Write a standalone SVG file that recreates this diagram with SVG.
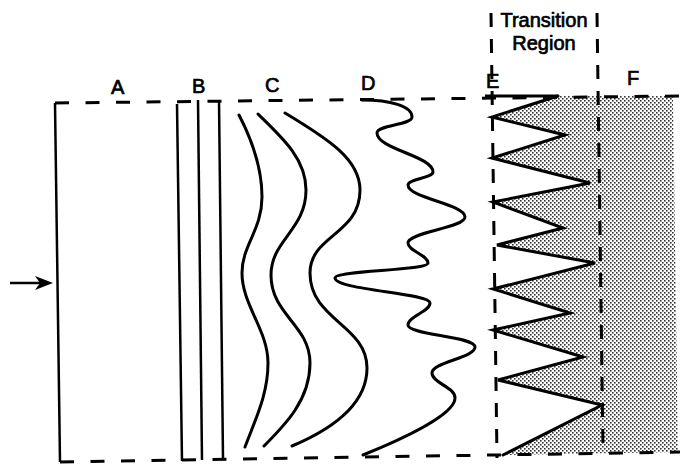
<svg xmlns="http://www.w3.org/2000/svg" width="681" height="465" viewBox="0 0 681 465">
<style>
.lbl{font-family:"Liberation Sans",Arial,sans-serif;font-size:20px;fill:#000;stroke:#000;stroke-width:0.7}
.dash{fill:none;stroke:#000;stroke-width:3;stroke-dasharray:14 16.5}
.vdash{fill:none;stroke:#000;stroke-width:3;stroke-dasharray:14 12}
.solid{fill:none;stroke:#000;stroke-width:2.5}
.curve{fill:none;stroke:#000;stroke-width:3;stroke-linecap:round}
</style>
<defs>
<pattern id="dots" width="4" height="4" patternUnits="userSpaceOnUse">
<rect width="4" height="4" fill="#fff"/>
<rect x="0" y="0" width="1.6" height="1.6" fill="#333"/>
<rect x="2" y="2" width="1.6" height="1.6" fill="#333"/>
</pattern>
</defs>
<rect width="681" height="465" fill="#fff"/>
<g id="shade">
<polygon points="558,96 492,117 565,135 492,158 590,183 493,202 563,228 497,245 595,263 493,289 570,313 493,330 583,357 498,380 602,405 503,455 678,452 673,96" fill="url(#dots)"/>
</g>
<g id="boundary">
<path class="dash" d="M55,103 L680,96"/>
<path class="dash" d="M60,462 L680,452"/>
<path class="solid" d="M55,103 L60,462"/>
</g>
<g id="regionA">
<text class="lbl" x="111" y="94">A</text>
</g>
<g id="regionB">
<text class="lbl" x="192" y="93">B</text>
<path class="solid" d="M177,104 L182,461"/>
<path class="solid" d="M198,100 L202,460"/>
<path class="solid" d="M219,100 L223,459"/>
</g>
<g id="regionC">
<text class="lbl" x="265" y="92">C</text>
<path class="curve" d="M239,115 C252,140 262,170 262,197 C262,230 242,245 242,273 C242,305 268,330 268,363 C268,395 255,420 245,447"/>
<path class="curve" d="M258,114 C285,140 306,160 306,190 C306,230 271,240 271,275 C271,315 310,325 310,363 C310,400 285,425 264,446"/>
<path class="curve" d="M285,113 C330,140 360,160 360,190 C360,235 310,235 310,273 C310,320 367,325 367,368 C367,405 330,430 292,446"/>
</g>
<g id="regionD">
<text class="lbl" x="361" y="90">D</text>
<path class="curve" d="M362,100 C390,100 412,106 412,117 C412,125 377,125 377,133 C377,149 433,156 433,172 C433,178 408,179 408,185 C408,198 465,204 465,217 C465,228 408,232 408,243 C408,251 428,255 428,263 C428,271 335,270 335,278 C335,290 430,293 430,303 C430,312 408,316 408,325 C408,335 475,336 475,347 C475,358 432,362 432,373 C432,383 455,387 455,398 C455,415 400,440 363,455"/>
</g>
<g id="transition">
<text class="lbl" x="544" y="27" text-anchor="middle">Transition</text>
<text class="lbl" x="544" y="50" text-anchor="middle">Region</text>
<text class="lbl" x="486" y="88">E</text>
<path class="solid" d="M485,96 L558,96" style="stroke-width:3"/>
<polyline class="curve" points="558,96 492,117 565,135 492,158 590,183 493,202 563,228 497,245 595,263 493,289 570,313 493,330 583,357 498,380 602,405 503,455"/>
<path class="vdash" d="M491,13 L497,458"/>
<path class="vdash" d="M597,13 L603,450"/>
</g>
<g id="regionF">
<text class="lbl" x="627" y="85">F</text>
</g>
<g id="connectors">
<path class="solid" d="M10,283 L42,283"/>
<path d="M53,283 L35,276 L40,283 L35,290 Z" fill="#000"/>
</g>
</svg>
